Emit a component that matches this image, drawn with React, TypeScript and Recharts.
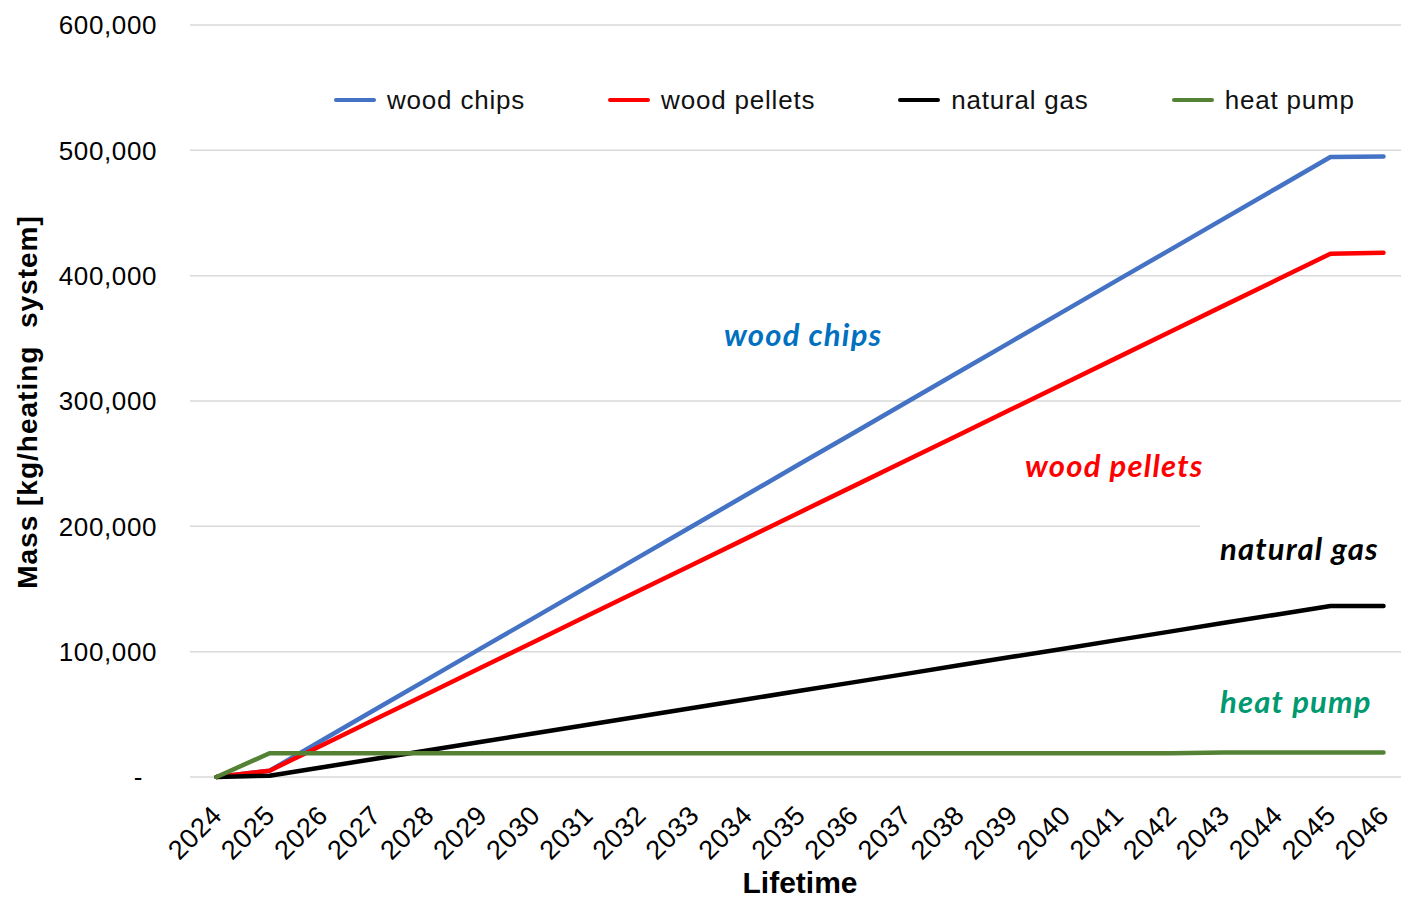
import { LineChart, Line, XAxis, YAxis, CartesianGrid } from 'recharts'

const years = [
  '2024', '2025', '2026', '2027', '2028', '2029', '2030', '2031', '2032', '2033', '2034', '2035',
  '2036', '2037', '2038', '2039', '2040', '2041', '2042', '2043', '2044', '2045', '2046',
]

const woodChips = [
  0, 5000, 29500, 54000, 78500, 103000, 127400, 151900, 176400, 200900, 225400, 249900,
  274300, 298800, 323300, 347800, 372300, 396800, 421200, 445700, 470200, 494700, 495000,
]

const woodPellets = [
  0, 5000, 25600, 46300, 66900, 87500, 108100, 128800, 149400, 170000, 190600, 211300,
  231900, 252500, 273100, 293800, 314400, 335000, 355600, 376300, 396900, 417500, 418300,
]

const naturalGas = [
  0, 1000, 7800, 14600, 21300, 28100, 34900, 41700, 48400, 55200, 62000, 68800,
  75500, 82300, 89100, 95900, 102600, 109400, 116200, 123000, 129700, 136500, 136500,
]

const heatPump = [
  0, 19000, 19000, 19000, 19000, 19000, 19000, 19000, 19000, 19000, 19000, 19000,
  19000, 19000, 19000, 19000, 19000, 19000, 19000, 19600, 19600, 19600, 19600,
]

const yTicks = [0, 100000, 200000, 300000, 400000, 500000, 600000]

const series = [
  { key: 'chips', name: 'wood chips', color: '#4472C4' },
  { key: 'pellets', name: 'wood pellets', color: '#FF0000' },
  { key: 'gas', name: 'natural gas', color: '#000000' },
  { key: 'pump', name: 'heat pump', color: '#548235' },
]

const data = years.map((year, i) => ({
  year,
  chips: woodChips[i],
  pellets: woodPellets[i],
  gas: naturalGas[i],
  pump: heatPump[i],
}))

const axisFont = '"Liberation Sans", Arial, sans-serif'
const noteFont = 'Lato, "Open Sans", sans-serif'

function YTick({ x, y, payload }: any) {
  const v = payload.value as number
  return (
    <text
      x={v === 0 ? x - 14 : x}
      y={y}
      dy="0.36em"
      textAnchor="end"
      fontFamily={axisFont}
      fontSize={26}
      letterSpacing={0.6}
      fill="#000"
    >
      {v === 0 ? '-' : v.toLocaleString('en-US')}
    </text>
  )
}

function XTick({ x, y, payload }: any) {
  return (
    <g transform={`translate(${x + 7},${y + 32})`}>
      <text
        textAnchor="end"
        transform="rotate(-45)"
        fontFamily={axisFont}
        fontSize={27}
        letterSpacing={0.6}
        fill="#000"
      >
        {payload.value}
      </text>
    </g>
  )
}

function LegendBox() {
  return (
    <div
      style={{
        position: 'absolute', left: 334, top: 84, display: 'flex', alignItems: 'center',
        fontFamily: axisFont, fontSize: 26, letterSpacing: 0.8, lineHeight: '32px',
      }}
    >
      {series.map((s) => (
        <div key={s.key} style={{ display: 'flex', alignItems: 'center', marginRight: 83 }}>
          <span style={{ width: 42, height: 4, borderRadius: 2, background: s.color, marginRight: 11 }} />
          <span style={{ color: '#111', whiteSpace: 'nowrap' }}>{s.name}</span>
        </div>
      ))}
    </div>
  )
}

export default function App() {
  return (
    <div style={{ position: 'absolute', left: 0, top: 0, width: 1401, height: 898, overflow: 'hidden', background: '#fff' }}>
      <LineChart width={1411} height={898} data={data} margin={{ top: 25, right: 1, bottom: 0, left: 0 }}>
        <CartesianGrid horizontal vertical={false} stroke="#d9d9d9" strokeWidth={1.5} />
        <XAxis
          dataKey="year"
          interval={0}
          height={121}
          tick={<XTick />}
          tickLine={false}
          axisLine={false}
          padding={{ left: 26.5, right: 26.5 }}
        />
        <YAxis
          domain={[0, 600000]}
          ticks={yTicks}
          width={190}
          tick={<YTick />}
          tickLine={false}
          axisLine={false}
          tickSize={0}
          tickMargin={33}
        />
        {series.map((s) => (
          <Line
            key={s.key}
            dataKey={s.key}
            name={s.name}
            stroke={s.color}
            strokeWidth={4.5}
            strokeLinecap="round"
            strokeLinejoin="round"
            dot={false}
            isAnimationActive={false}
          />
        ))}
      </LineChart>
      <LegendBox />
      <svg width={1401} height={898} style={{ position: 'absolute', left: 0, top: 0, pointerEvents: 'none' }}>
        <rect x={1200} y={518} width={201} height={16} fill="#fff" />
        <text x={37} y={402} transform="rotate(-90 37 402)" textAnchor="middle" fontFamily={axisFont} fontWeight="bold" fontSize={28} letterSpacing={1} xmlSpace="preserve">
          {'Mass [kg/heating  system]'}
        </text>
        <text x={800} y={893} textAnchor="middle" fontFamily={axisFont} fontWeight="bold" fontSize={30}>
          Lifetime
        </text>
        <g fontFamily={noteFont} fontWeight="bold" fontStyle="italic" fontSize={31} letterSpacing={1.2}>
          <text x={724} y={346} fill="#0070C0">wood chips</text>
          <text x={1025} y={477} fill="#FF0000">wood pellets</text>
          <text x={1220} y={560} fill="#000">natural gas</text>
          <text x={1220} y={713} fill="#009970">heat pump</text>
        </g>
      </svg>
    </div>
  )
}
